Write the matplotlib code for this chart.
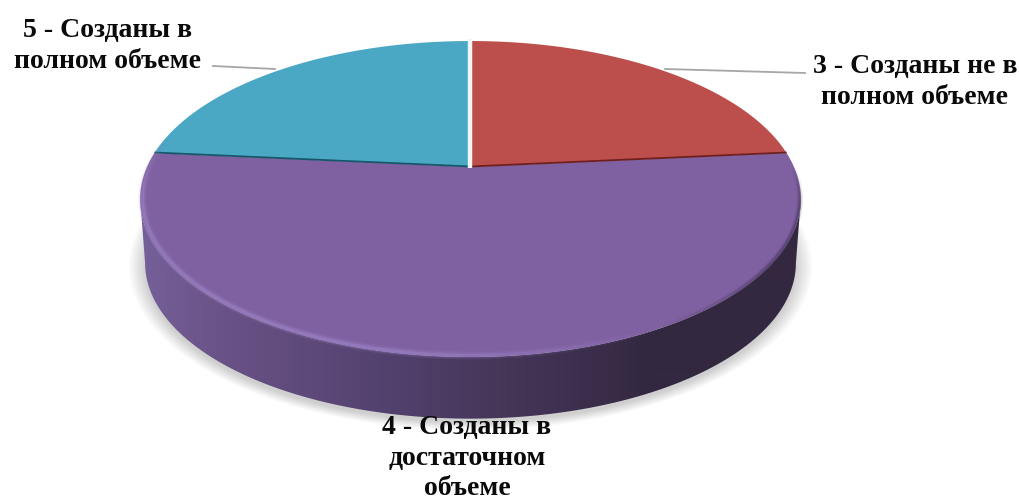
import numpy as np
import matplotlib
matplotlib.use("Agg")
import matplotlib.pyplot as plt
from matplotlib.collections import LineCollection
from matplotlib.colors import to_rgb
from matplotlib.patches import Polygon

# data
categories = ["3 - Созданы не в\nполном объеме", "4 - Созданы в\nдостаточном\nобъеме", "5 - Созданы в\nполном объеме"]
values = [23.5, 53.0, 23.5]
colors = ["#bc4f4c", "#7f60a0", "#4aa8c4"]
edge_colors = ["#6e1f20", "#7f60a0", "#17566a"]

# projection of the tilted disc to screen pixels
CX, CY, A, B, K = 470.5, 167.0, 323.5, 151.5, 0.2026
DEPTH, BOTTOM_SCALE = 64.5, 0.985
T_RIGHT = np.arccos(-K)
T_LEFT = 2 * np.pi - T_RIGHT


def project(t, r=1.0, dy=0.0, scale=1.0):
    u, v = r * np.sin(t), r * np.cos(t)
    w = 1 + K * v
    return CX + scale * A * u / w, CY + dy - scale * B * v / w


fig = plt.figure(figsize=(10.19, 4.99), dpi=100)
ax = fig.add_axes([0, 0, 1, 1])
ax.set_xlim(0, 1019)
ax.set_ylim(499, 0)
ax.axis("off")

# soft shadow
full = np.linspace(0, 2 * np.pi, 400)
pivot = CY + DEPTH + 33
for s in np.linspace(1.035, 0.985, 16):
    x, y = project(full, dy=DEPTH + 3)
    ax.fill(CX + (x - CX) * s, pivot + (y - pivot) * s, color="black", alpha=0.012, lw=0, zorder=1)

# side wall with horizontal gradient
front = np.linspace(T_RIGHT, T_LEFT, 300)
x_top, y_top = project(front)
x_bot, y_bot = project(front[::-1], dy=DEPTH, scale=BOTTOM_SCALE)
wall = Polygon(np.column_stack([np.r_[x_top, x_bot], np.r_[y_top, y_bot]]),
               closed=True, transform=ax.transData, fc="none", ec="none")
ax.add_patch(wall)
stops_x = [141, 210, 300, 400, 500, 580, 650, 800]
stops_c = ["#75609a", "#6b5488", "#5f4a7c", "#50406c", "#463658", "#3c2f4e", "#332840", "#332840"]
gx = np.arange(130, 810)
grad = np.stack([np.interp(gx, stops_x, [to_rgb(c)[i] for c in stops_c]) for i in range(3)], axis=-1)[None, :, :]
im = ax.imshow(grad, extent=[130, 810, 440, 150], aspect="auto", zorder=2, interpolation="bilinear")
im.set_clip_path(wall)
ax.set_xlim(0, 1019)
ax.set_ylim(499, 0)

# top face, one slice per value
fractions = np.array(values) / np.sum(values)
edges = np.r_[0, np.cumsum(fractions)] * 2 * np.pi
for i in (1, 0, 2):
    t = np.linspace(edges[i], edges[i + 1], 200)
    x, y = project(t)
    ax.fill(np.r_[CX, x], np.r_[CY, y], color=colors[i], lw=0, zorder=3)

# darker seam where the upper slices meet the large slice
for i, e in ((0, edges[1]), (2, edges[2])):
    x, y = project(np.array([e]))
    ax.plot([CX, x[0]], [CY - 0.5, y[0] - 0.5], color=edge_colors[i], lw=1.3, zorder=4,
            solid_capstyle="butt")

# white gap between the two upper slices
x, y = project(np.array([0.0]))
ax.plot([CX, x[0]], [CY + 1, y[0] - 2], color="#f2f5f6", lw=3.2, zorder=5, solid_capstyle="butt")


# rim bevel along the front of the disc
def rim(color, lw, alpha, r, t0, t1, t2, t3):
    t = np.linspace(t0, t3, 300)
    x, y = project(t, r=r)
    pts = np.column_stack([x, y])
    segs = np.stack([pts[:-1], pts[1:]], axis=1)
    tm = (t[:-1] + t[1:]) / 2
    a = alpha * np.interp(tm, [t0, t1, t2, t3], [0, 1, 1, 0])
    rgb = to_rgb(color)
    ax.add_collection(LineCollection(segs, colors=[(*rgb, v) for v in a], linewidths=lw, zorder=6,
                                     capstyle="butt"))


d = np.deg2rad
for lw, al in ((6, 0.15), (4, 0.25), (2, 0.45)):
    rim("#a088cc", lw, al, 0.993, d(150), d(190), d(255), d(282))
for lw, al in ((4, 0.2), (2, 0.4)):
    rim("#3d3052", lw, al, 0.997, d(90), d(105), d(125), d(150))

# leader lines
ax.plot([213, 275], [66, 69], color="#a6a6a6", lw=1.3, zorder=7)
ax.plot([665, 805], [69, 73], color="#a6a6a6", lw=1.3, zorder=7)

# labels
font = dict(family="Liberation Serif", weight="bold", fontsize=20, color="#0a0a0a",
            ha="center", va="center", linespacing=1.27, zorder=8)
ax.text(915, 82, categories[0], **font)
ax.text(467, 458, categories[1], **font)
ax.text(108, 46, categories[2], **font)

fig.savefig("out.png", dpi=100)
